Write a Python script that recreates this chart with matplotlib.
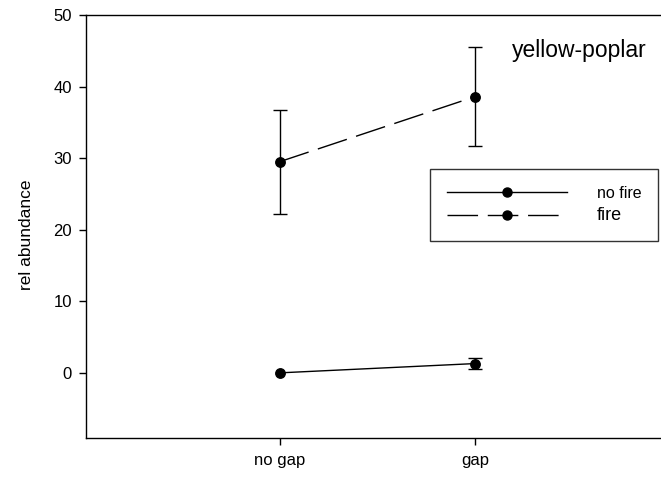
import numpy as np
import matplotlib.pyplot as plt
from matplotlib.lines import Line2D

plt.rcParams['font.family'] = ['Liberation Sans', 'DejaVu Sans']

categories = ["no gap", "gap"]
x = [1, 2]
no_fire = [0.0, 1.3]
no_fire_err = [np.nan, 0.8]   # no visible bar at "no gap"
fire = [29.5, 38.6]
fire_err = [7.25, 6.9]

W, H = 661, 479
fig = plt.figure(figsize=(W / 100, H / 100), dpi=100)
# axes box in pixels: left 86, top 15, bottom 438, runs off the right edge
ax = fig.add_axes([86 / W, (H - 438) / H, (W - 86) / W, (438 - 15) / H])

dash = (22, 7)
ax.errorbar(x, no_fire, yerr=no_fire_err, color='black', lw=1, marker='o',
            ms=6.8, capsize=4.7, elinewidth=1, capthick=1)
ax.errorbar(x, fire, yerr=fire_err, color='black', lw=1, marker='o',
            ms=6.8, capsize=4.7, elinewidth=1, capthick=1, dashes=dash)

ax.set_xlim(0.01, 2.95)
ax.set_ylim(-9.1, 50)
ax.set_xticks(x)
ax.set_xticklabels(categories)
ax.set_yticks([0, 10, 20, 30, 40, 50])
ax.tick_params(direction='out', length=5, width=1, labelsize=12, pad=5)
ax.tick_params(axis='x', pad=6)
ax.set_ylabel("rel abundance", fontsize=12.5)
ax.yaxis.set_label_coords(-0.09, 0.48)

ax.spines['right'].set_visible(False)
for s in ['left', 'top', 'bottom']:
    ax.spines[s].set_linewidth(1)

ax.text(512 / W, 1 - 50 / H, "yellow-poplar", transform=fig.transFigure,
        fontsize=16.5, va='center')

handles = [Line2D([], [], color='black', lw=1, marker='o', ms=6.5),
           Line2D([], [], color='black', lw=1, marker='o', ms=6.5, dashes=dash)]
leg = ax.legend(handles, ["no fire", "fire"], loc='upper left',
                bbox_to_anchor=(430 / W, 1 - 169 / H), bbox_transform=fig.transFigure,
                frameon=True, fancybox=False, edgecolor='black', fontsize=12,
                handlelength=7.2, handletextpad=1.8, borderpad=1.0,
                labelspacing=0.4, borderaxespad=0)
leg.get_frame().set_linewidth(1)
leg.get_texts()[0].set_fontsize(11.5)
leg.get_texts()[1].set_fontsize(13)

fig.savefig("out.png", dpi=100)
